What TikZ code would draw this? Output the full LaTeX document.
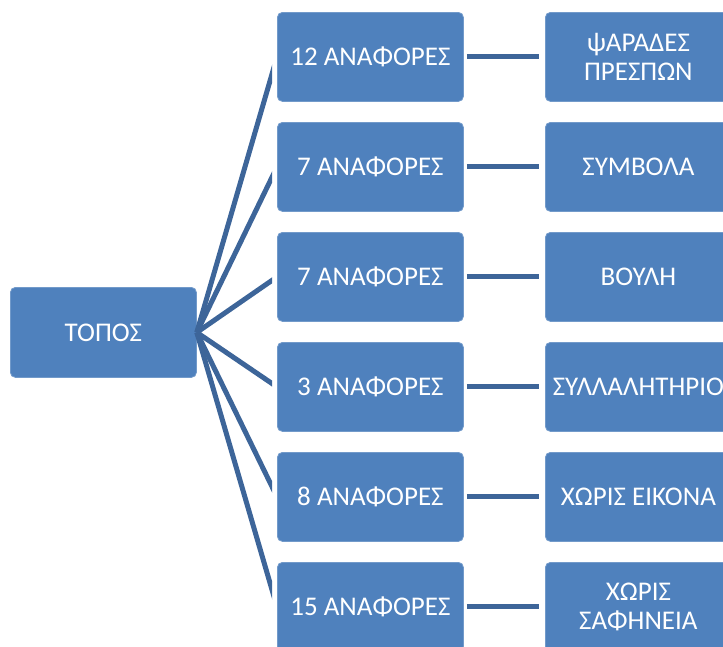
\documentclass[tikz,border=0pt]{standalone}
\usepackage{fontspec}
\setmainfont{Carlito}
\definecolor{boxblue}{HTML}{4F81BD}
\definecolor{lineblue}{HTML}{3D6599}
\tikzset{
  box/.style={fill=boxblue, draw=boxblue!80!white, line width=0.8pt, rounded corners=5pt,
    minimum width=186pt, minimum height=89pt, inner sep=0pt, text=white,
    font=\fontsize{27}{29}\selectfont, align=center, anchor=north west},
  conn/.style={draw=lineblue, line width=5pt}
}
\begin{document}
\begin{tikzpicture}[x=1pt,y=-1pt]
\clip (0,0) rectangle (723,646);
\node[box, minimum height=90pt] (topos) at (10,287) {ΤΟΠΟΣ};
\node[box] (m1) at (277,12) {12 ΑΝΑΦΟΡΕΣ};
\node[box] (m2) at (277,122) {7 ΑΝΑΦΟΡΕΣ};
\node[box] (m3) at (277,232) {7 ΑΝΑΦΟΡΕΣ};
\node[box] (m4) at (277,342) {3 ΑΝΑΦΟΡΕΣ};
\node[box] (m5) at (277,452) {8 ΑΝΑΦΟΡΕΣ};
\node[box] (m6) at (277,562) {15 ΑΝΑΦΟΡΕΣ};
\node[box] (r1) at (545,12) {ψΑΡΑΔΕΣ\\ΠΡΕΣΠΩΝ};
\node[box] (r2) at (545,122) {ΣΥΜΒΟΛΑ};
\node[box] (r3) at (545,232) {ΒΟΥΛΗ};
\node[box] (r4) at (545,342) {ΣΥΛΛΑΛΗΤΗΡΙΟ};
\node[box] (r5) at (545,452) {ΧΩΡΙΣ ΕΙΚΟΝΑ};
\node[box] (r6) at (545,562) {ΧΩΡΙΣ\\ΣΑΦΗΝΕΙΑ};
\coordinate (hub) at (topos.east);
\begin{scope}
  \clip (194,0) rectangle (272,646);
  \foreach \i in {1,...,6}{
    \draw[conn] (hub) -- (m\i.west);
  }
\end{scope}
\foreach \i in {1,...,6}{
  \draw[conn] ([xshift=3pt]m\i.east) -- ([xshift=-6pt]r\i.west);
}
\end{tikzpicture}
\end{document}
